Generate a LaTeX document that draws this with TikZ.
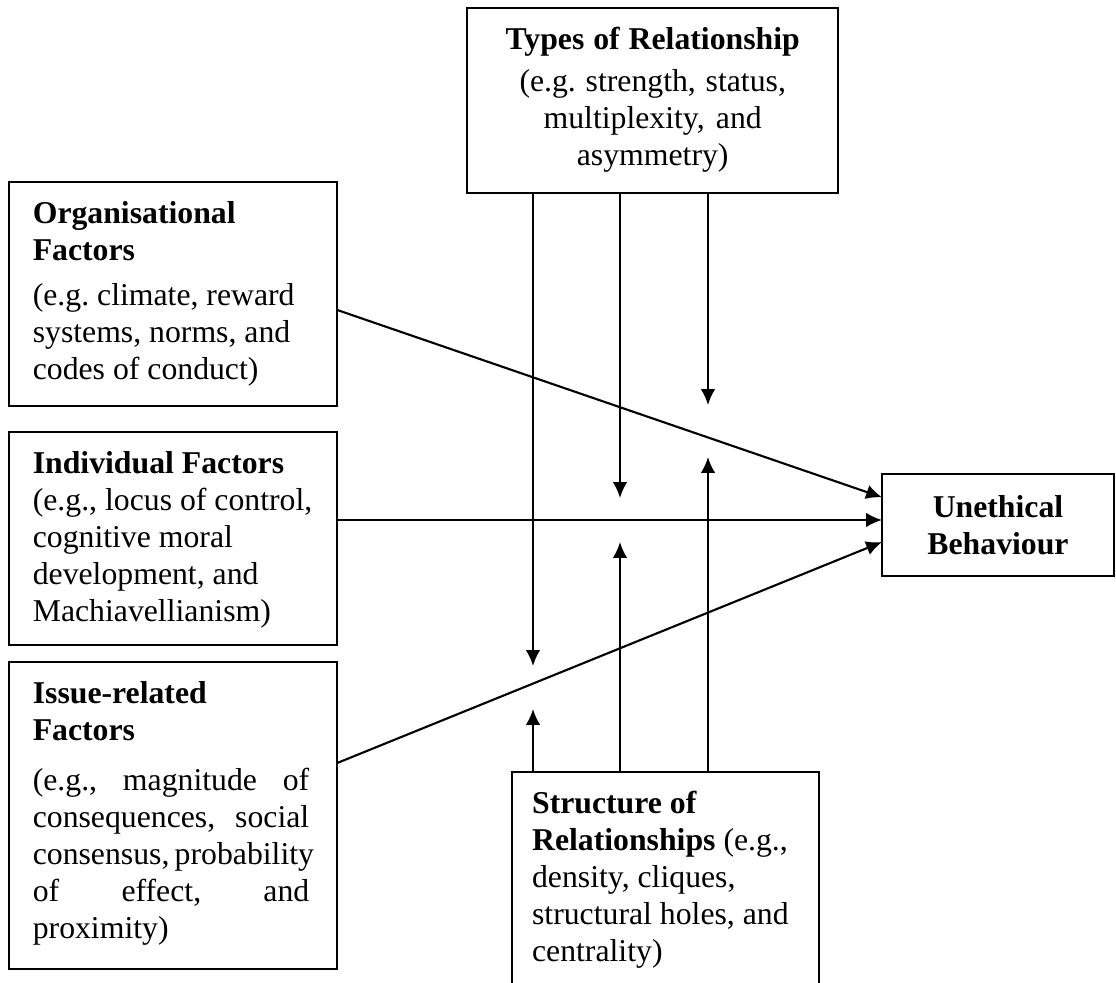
\documentclass[tikz,border=0pt]{standalone}
\usepackage{fontspec}
\setmainfont{Liberation Serif}
\usetikzlibrary{arrows.meta}
\newcommand\spreadline[1]{\makebox[104.5pt][s]{#1}}

\begin{document}
\frenchspacing
\hyphenpenalty=10000
\begin{tikzpicture}[x=0.378pt,y=-0.378pt,>={Latex[length=6pt,width=5.5pt]},line width=0.8pt,
  frame/.style={draw,outer sep=0pt,font=\fontsize{12}{14}\selectfont,
    execute at begin node={\spaceskip=0pt\xspaceskip=0pt\frenchspacing}},
  box/.style={frame,inner ysep=0pt,inner xsep=8.7pt,anchor=north west,text height=15.5pt},
  factor/.style={box,text width=106pt,minimum width=124pt,align=left}]

\useasboundingbox (0,0) rectangle (1116,982);
\clip (0,0) rectangle (1116,982);

\node[box,text width=123pt,align=center,text depth=54.4pt] (types) at (467,8)
  {\textbf{Types of Relationship}\\[2pt] (e.g. strength, status,\\ multiplexity, and\\ asymmetry)};

\node[factor,text depth=69.2pt] (org) at (9,182)
  {\textbf{Organisational}\\ \textbf{Factors}\\[3pt] (e.g. climate, reward\\ systems, norms, and\\ codes of conduct)};
\node[factor,text depth=65pt] (ind) at (9,432)
  {\textbf{Individual Factors}\\ (e.g., locus of control,\\ cognitive moral\\ development, and\\ Machiavellianism)};
\node[factor,text depth=100.5pt] (issue) at (9,662)
  {\textbf{Issue-related}\\ \textbf{Factors}\\[5pt]
   \spreadline{(e.g., magnitude of}\\
   \spreadline{consequences, social}\\
   \spreadline{consensus, probability}\\
   \spreadline{of effect, and}\\
   proximity)};

\node[box,inner xsep=7.6pt,text width=100.8pt,align=left,text depth=75pt] (struct) at (512,772)
  {\textbf{Structure of}\\ \textbf{Relationships} (e.g.,\\ density, cliques,\\ structural holes, and\\ centrality)};

\node[frame,inner sep=0pt,anchor=north west,minimum width=87.7pt,minimum height=38.6pt,align=center] (ue) at (882,474)
  {\textbf{Unethical}\\ \textbf{Behaviour}};

% direct effects
\draw[->] ([yshift=-6pt]org.east) -- ([yshift=10.5pt]ue.west);
\draw[->] ([yshift=7pt]ind.east) -- ([yshift=7pt]ind.east -| ue.west);
\draw[->] ([yshift=19.8pt]issue.east) -- ([yshift=-6.4pt]ue.west);

% moderators
\coordinate (t1) at (533,666);
\coordinate (t2) at (620,498);
\coordinate (t3) at (708,405);
\coordinate (s1) at (533,709);
\coordinate (s2) at (620,542);
\coordinate (s3) at (708,457);

\draw[->] (types.south -| t1) -- (t1);
\draw[->] (types.south -| t2) -- (t2);
\draw[->] (types.south -| t3) -- (t3);
\draw[->] (struct.north -| s1) -- (s1);
\draw[->] (struct.north -| s2) -- (s2);
\draw[->] (struct.north -| s3) -- (s3);

\end{tikzpicture}
\end{document}
